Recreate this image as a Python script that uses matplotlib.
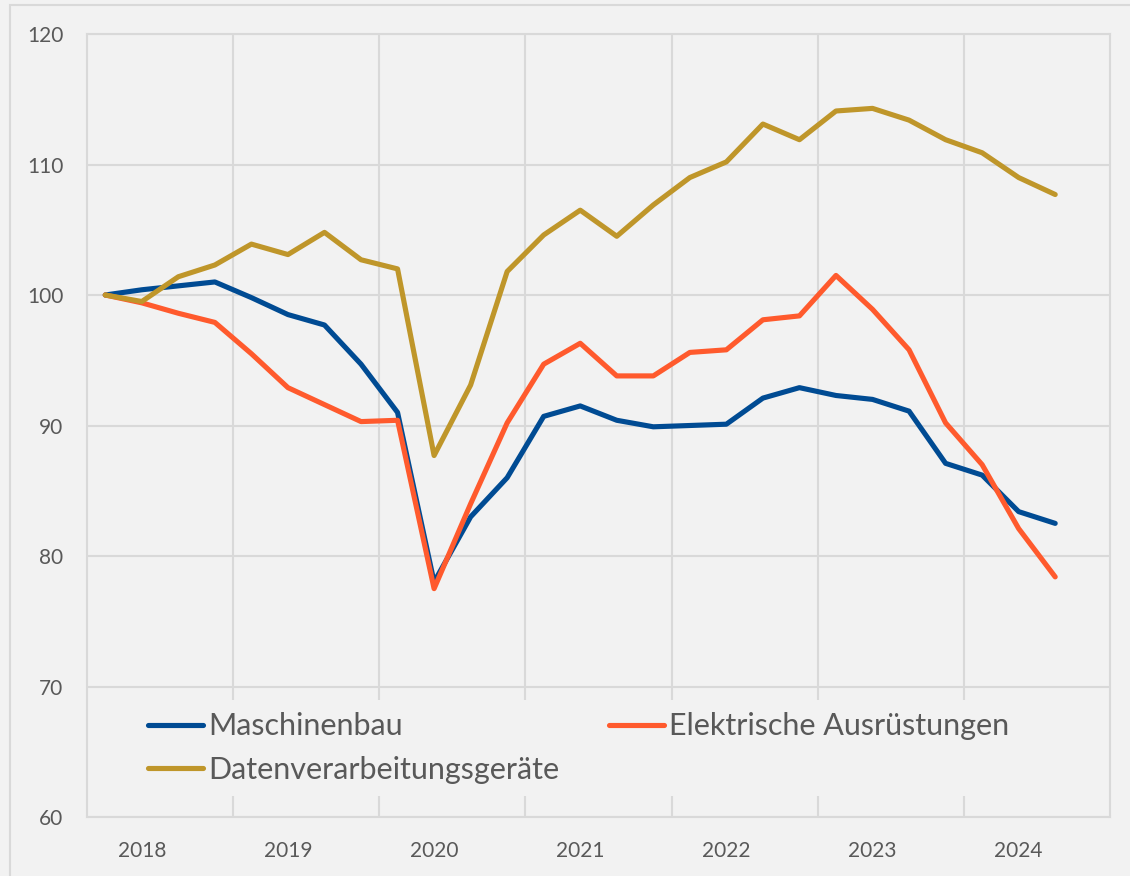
import matplotlib.pyplot as plt
from matplotlib.patches import Rectangle

# Quarterly index values, 2018Q1 = 100 (2018Q1 .. 2024Q3)
years = ["2018", "2019", "2020", "2021", "2022", "2023", "2024"]
maschinenbau = [100.0, 100.4, 100.7, 101.0, 99.8, 98.5, 97.7, 94.7, 91.0,
                78.0, 83.0, 86.0, 90.7, 91.5, 90.4, 89.9, 90.0, 90.1,
                92.1, 92.9, 92.3, 92.0, 91.1, 87.1, 86.2, 83.4, 82.5]
elektrische = [100.0, 99.4, 98.6, 97.9, 95.5, 92.9, 91.6, 90.3, 90.4,
               77.5, 84.0, 90.2, 94.7, 96.3, 93.8, 93.8, 95.6, 95.8,
               98.1, 98.4, 101.5, 98.9, 95.8, 90.2, 87.0, 82.1, 78.4]
daten = [100.0, 99.5, 101.4, 102.3, 103.9, 103.1, 104.8, 102.7, 102.0,
         87.7, 93.1, 101.8, 104.6, 106.5, 104.5, 106.9, 109.0, 110.2,
         113.1, 111.9, 114.1, 114.3, 113.4, 111.9, 110.9, 109.0, 107.7]

plt.rcParams['font.family'] = ['Lato', 'DejaVu Sans']
bg = '#f2f2f2'
grid_c = '#d9d9d9'
txt_c = '#595959'

fig = plt.figure(figsize=(11.3, 8.76), dpi=100, facecolor=bg)
ax = fig.add_axes([87/1130, 1 - 817/876, (1110 - 87)/1130, (817 - 34)/876])
ax.set_facecolor(bg)

# outer frame
fig.patches.append(Rectangle((10/1130, -0.01), 1.0, 1 - 5/876 + 0.01,
                             transform=fig.transFigure, fill=False,
                             edgecolor='#d9d9d9', linewidth=1.5))

q = list(range(len(maschinenbau)))
style = dict(lw=3.7, zorder=3, solid_capstyle='round', solid_joinstyle='round')
l1, = ax.plot(q, maschinenbau, color='#004b93', label='Maschinenbau', **style)
l2, = ax.plot(q, elektrische, color='#ff5a2d', label='Elektrische Ausrüstungen', **style)
l3, = ax.plot(q, daten, color='#bf962a', label='Datenverarbeitungsgeräte', **style)

n_years = len(years)
ax.set_xlim(-0.5, 4 * n_years - 0.5)
ax.set_ylim(60, 120)
ax.set_yticks(range(60, 121, 10))
ax.set_xticks([4 * i + 1 for i in range(n_years)])
ax.set_xticklabels(years)
ax.set_xticks([4 * i - 0.5 for i in range(1, n_years)], minor=True)

ax.grid(axis='y', color=grid_c, lw=1.5, zorder=0)
ax.grid(axis='x', which='minor', color=grid_c, lw=1.5, zorder=0)
ax.tick_params(axis='both', which='both', length=0, labelsize=15, colors=txt_c)
ax.tick_params(axis='y', pad=17)
ax.tick_params(axis='x', pad=17)
for s in ax.spines.values():
    s.set_color(grid_c)
    s.set_linewidth(1.5)

leg = ax.legend(handles=[l1, l3, l2], ncol=2, loc='center left',
                bbox_to_anchor=(0.048, 0.088),
                frameon=True, facecolor=bg, edgecolor='none', framealpha=1,
                fontsize=22, handlelength=1.8, handletextpad=0.16,
                labelspacing=0.5, columnspacing=1.62, borderaxespad=0,
                borderpad=0.4)
leg.get_frame().set_boxstyle('square', pad=0)
for t in leg.get_texts():
    t.set_color(txt_c)

fig.savefig('out.png', dpi=100, facecolor=bg)
